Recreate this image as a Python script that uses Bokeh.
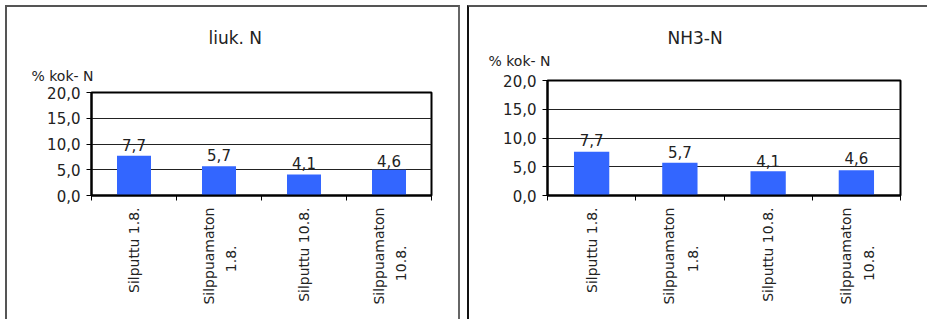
import math
from bokeh.plotting import figure
from bokeh.layouts import row, column
from bokeh.models import FixedTicker, Range1d, Title, LinearAxis
from bokeh.core.properties import value
from bokeh.embed import file_html
from bokeh.resources import INLINE

# ---- data ----
categories = ["Silputtu 1.8.", "Silppuamaton\n1.8.", "Silputtu 10.8.", "Silppuamaton\n10.8."]
liuk_bars = [7.7, 5.7, 4.1, 5.0]
liuk_labels = [7.7, 5.7, 4.1, 4.6]
nh3_bars = [7.6, 5.7, 4.2, 4.4]
nh3_labels = [7.7, 5.7, 4.1, 4.6]
y_ticks = [0, 5, 10, 15, 20]
y_tick_labels = ["0,0", "5,0", "10,0", "15,0", "20,0"]
titles = ["liuk. N", "NH3-N"]
y_unit = "% kok- N"

FONT = "DejaVu Sans"
TXT = "#222222"
BAR = "#3366FF"


def fmt(v):
    return ("%.1f" % v).replace(".", ",")


def make_panel(title, bars, labels, width, height, mb, margin, title_off, unit_off, styles):
    n = len(categories)
    centers = [i + 0.5 for i in range(n)]
    bounds = [float(i) for i in range(n + 1)]
    p = figure(width=width, height=height, x_range=Range1d(0, n), y_range=Range1d(0, 20),
               output_backend="svg", toolbar_location=None,
               min_border_left=mb[0], min_border_right=mb[1],
               min_border_top=mb[2], min_border_bottom=mb[3])
    p.margin = margin
    p.styles = styles
    p.background_fill_color = "white"
    p.border_fill_color = "white"
    p.outline_line_color = "black"
    p.outline_line_width = 2

    p.vbar(x=centers, top=bars, width=0.4, fill_color=BAR, line_color=None)
    p.text(x=centers, y=labels, text=[fmt(v) for v in labels], text_align="center",
           text_baseline="alphabetic", y_offset=-11, text_font=value(FONT),
           text_font_size="15px", text_color=TXT)

    # category labels: first line on the main axis, second line on a helper axis
    main_ticks, main_lab, sec_ticks, sec_lab = [], {}, [], {}
    for c, cat in zip(centers, categories):
        lines = cat.split("\n")
        if len(lines) == 1:
            main_ticks.append(c)
            main_lab[c] = lines[0]
        else:
            c1, c2 = c - 0.12, c + 0.145
            main_ticks.append(c1)
            main_lab[c1] = lines[0]
            sec_ticks.append(c2)
            sec_lab[c2] = lines[1]

    p.xaxis.ticker = FixedTicker(ticks=main_ticks, minor_ticks=bounds)
    p.xaxis.major_label_overrides = main_lab
    p.xaxis.major_tick_line_color = None
    p.xaxis.major_tick_out = 5
    p.xaxis.minor_tick_line_color = "black"
    p.xaxis.minor_tick_in = 0
    p.xaxis.minor_tick_out = 5
    p.xaxis.axis_line_color = "black"
    p.xaxis.axis_line_width = 2
    p.xaxis.major_label_orientation = math.pi / 2
    p.xaxis.major_label_standoff = 7
    p.xaxis.major_label_text_font = FONT
    p.xaxis.major_label_text_font_size = "14px"
    p.xaxis.major_label_text_color = TXT

    ax2 = LinearAxis(ticker=FixedTicker(ticks=sec_ticks, minor_ticks=[]),
                     major_label_overrides=sec_lab,
                     axis_line_color=None, major_tick_line_color=None,
                     minor_tick_line_color=None, major_tick_out=0, major_tick_in=0,
                     minor_tick_out=0, minor_tick_in=0,
                     major_label_orientation=math.pi / 2, major_label_standoff=-62,
                     major_label_text_font=FONT, major_label_text_font_size="14px",
                     major_label_text_color=TXT)
    p.add_layout(ax2, "below")

    p.yaxis.ticker = FixedTicker(ticks=y_ticks, minor_ticks=[])
    p.yaxis.major_label_overrides = {t: lab for t, lab in zip(y_ticks, y_tick_labels)}
    p.yaxis.major_tick_in = 0
    p.yaxis.major_tick_out = 5
    p.yaxis.major_tick_line_color = "black"
    p.yaxis.axis_line_color = "black"
    p.yaxis.axis_line_width = 2
    p.yaxis.major_label_standoff = 6
    p.yaxis.major_label_text_font = FONT
    p.yaxis.major_label_text_font_size = "15px"
    p.yaxis.major_label_text_color = TXT

    p.xgrid.grid_line_color = None
    p.ygrid.ticker = FixedTicker(ticks=y_ticks, minor_ticks=[])
    p.ygrid.grid_line_color = "#222222"
    p.ygrid.grid_line_width = 1

    p.add_layout(Title(text=y_unit, align="left", offset=unit_off[0], standoff=unit_off[1],
                       text_font=FONT, text_font_size="14px", text_font_style="normal",
                       text_color=TXT), "above")
    p.title.text = title
    p.title.align = "left"
    p.title.offset = title_off[0]
    p.title.standoff = title_off[1]
    p.title.text_font = FONT
    p.title.text_font_size = "17px"
    p.title.text_font_style = "normal"
    p.title.text_color = TXT
    return p


left = make_panel(titles[0], liuk_bars, liuk_labels, 455, 314, (84, 31, 85, 126), (5, 0, 0, 5),
                  (117, 18), (-60, 18),
                  {"border-left": "2px solid #555", "border-top": "2px solid #555",
                   "border-right": "2px solid #666"})
right = make_panel(titles[1], nh3_bars, nh3_labels, 460, 314, (78, 29, 73, 126), (5, 0, 0, 7),
                   (120, -18), (-59, 24),
                   {"border-left": "2px solid #111", "border-top": "2px solid #555"})

layout = row(column(left), column(right))
layout.spacing = 0
open("out.html", "w").write(file_html(layout, INLINE))
